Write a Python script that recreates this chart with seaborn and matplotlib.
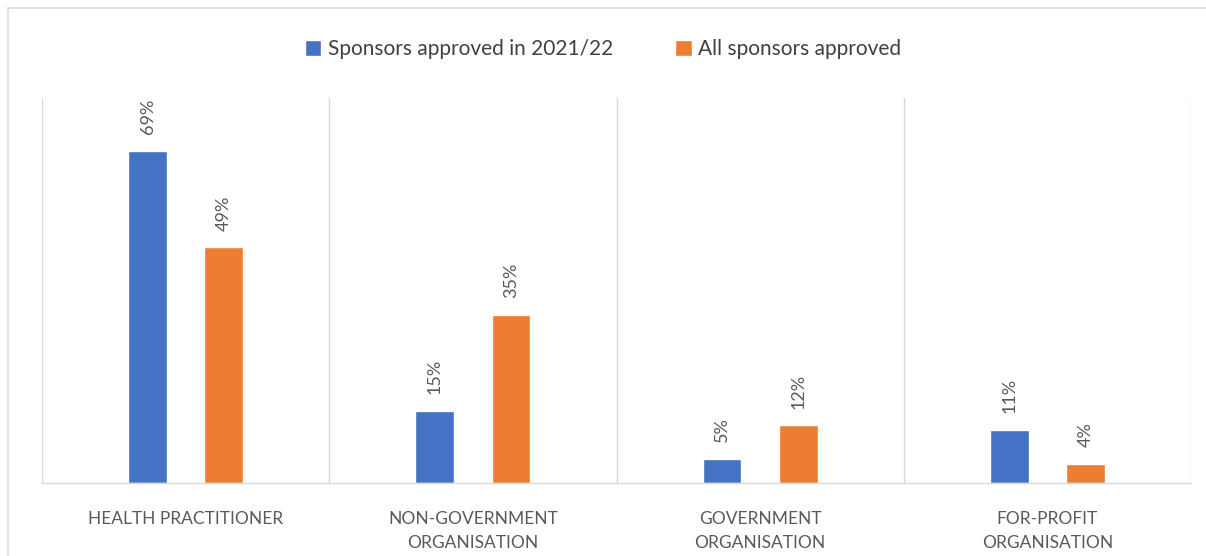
import matplotlib
matplotlib.use("Agg")
import matplotlib.pyplot as plt
import seaborn as sns
import pandas as pd
from matplotlib.patches import Rectangle

categories = ["HEALTH PRACTITIONER", "NON-GOVERNMENT\nORGANISATION",
              "GOVERNMENT\nORGANISATION", "FOR-PROFIT\nORGANISATION"]
series_names = ["Sponsors approved in 2021/22", "All sponsors approved"]
approved_2021_22 = [69, 15, 5, 11]
all_approved = [49, 35, 12, 4]
colors = ["#4472C4", "#ED7D31"]

df = pd.DataFrame({
    "category": categories * 2,
    "series": [series_names[0]] * 4 + [series_names[1]] * 4,
    "value": approved_2021_22 + all_approved,
})

sns.set_theme(style="white")
plt.rcParams['font.family'] = ['Lato', 'DejaVu Sans']

fig = plt.figure(figsize=(12.06, 5.56), dpi=100)
ax = fig.add_axes([42/1206, 1-483/556, (1191-42)/1206, (483-98)/556])

sns.barplot(data=df, x="category", y="value", hue="series", order=categories,
            hue_order=series_names, palette=colors, width=0.53, gap=0.49,
            saturation=1, ax=ax, legend=True)

for container in ax.containers:
    ax.bar_label(container, labels=[f"{v:.0f}%" for v in container.datavalues],
                 rotation=90, padding=12, color="#595959", fontsize=13)

ax.set_ylim(0, 80)
ax.set_xlim(-0.5, len(categories) - 0.5)
ax.set_yticks([])
ax.set_xlabel("")
ax.set_ylabel("")
ax.set_xticks([i - 0.5 for i in range(len(categories) + 1)], minor=True)
ax.grid(True, which="minor", axis="x", color="#d9d9d9", linewidth=1)
ax.tick_params(axis="x", which="both", length=0, pad=20)
for lbl in ax.get_xticklabels():
    lbl.set_color("#595959")
    lbl.set_fontsize(12.5)
    lbl.set_linespacing(1.6)
for s in ["top", "left", "right"]:
    ax.spines[s].set_visible(False)
ax.spines["bottom"].set_color("#d9d9d9")
ax.spines["bottom"].set_linewidth(1)

ax.legend(loc="center", bbox_to_anchor=(0.5, 1 - 49/556), bbox_transform=fig.transFigure,
          ncol=2, frameon=False, fontsize=15, handlelength=0.8, handleheight=0.8,
          handletextpad=0.3, columnspacing=3.0, labelcolor="#404040")

fig.patches.append(Rectangle((8/1206, -0.05), 1.1, 1 - 8/556 + 0.05, transform=fig.transFigure,
                             fill=False, edgecolor="#d9d9d9", linewidth=1.2))

fig.savefig("out.png", dpi=100)
